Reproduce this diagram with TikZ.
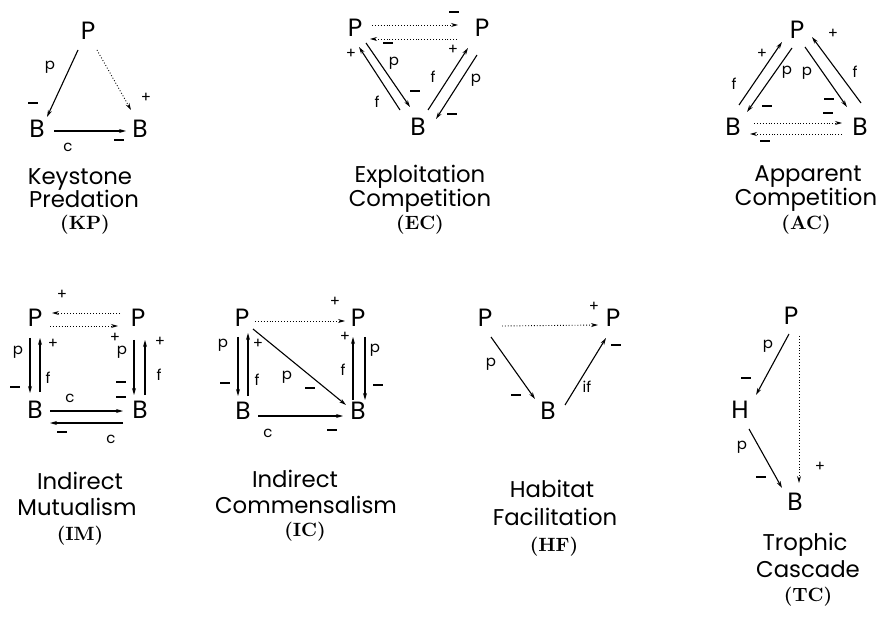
\documentclass[tikz,border=0pt]{standalone}
\usepackage{fontspec}
\newfontfamily\sketchfont{Poppins}
\usetikzlibrary{arrows.meta}

\newcommand\mn{\rule{4.6pt}{0.6pt}}

\tikzset{
  sp/.style={font=\sketchfont\fontsize{12.5}{14}\selectfont, inner sep=0pt},
  lbl/.style={font=\sketchfont\fontsize{7.5}{8}\selectfont, inner sep=0pt},
  ttl/.style={font=\sketchfont\fontsize{11.4}{13}\selectfont, inner sep=0pt, anchor=base},
  abbr/.style={font=\bfseries\fontsize{9.6}{11}\selectfont, inner sep=0pt, anchor=base},
  eff/.style={line width=0.55pt, -{Stealth[length=3.5pt,width=2pt]}},
  ind/.style={line width=0.45pt, densely dotted, -{Stealth[length=3.5pt,width=2pt]}},
}

\begin{document}
\begin{tikzpicture}[x=0.5pt,y=-0.5pt]
    \useasboundingbox (0,0) rectangle (877,625);

    % keystone predation
    \node[sp] (kpP) at (88,31) {P};
    \node[sp] (kpBl) at (37,129) {B};
    \node[sp] (kpBr) at (140,129) {B};
    \draw[eff] ([shift={(-10,19)}]kpP.center) -- ([shift={(10,-12)}]kpBl.center);
    \draw[ind] ([shift={(9,19)}]kpP.center) -- ([shift={(-9,-19)}]kpBr.center);
    \draw[eff] ([shift={(17,2)}]kpBl.center) -- ([shift={(-14,2)}]kpBr.center);
    \foreach \t/\x/\y [count=\i] in {p/50/67, \mn/33/103, +/146/98, c/68/147, \mn/119/140}
        \node[lbl] (kp-l\i) at (\x,\y) {\t};
    \node[ttl] (kpT1) at (80,185) {Keystone};
    \node[ttl] (kpT2) at (84,208) {Predation};
    \node[abbr] (kpT3) at (85,230) {(KP)};

    % exploitation competition
    \node[sp] (ecPl) at (355,28) {P};
    \node[sp] (ecPr) at (482,28) {P};
    \node[sp] (ecB) at (418,127) {B};
    \draw[ind] ([shift={(17,-3)}]ecPl.center) -- ([shift={(-24,-3)}]ecPr.center);
    \draw[ind] ([shift={(-25,11)}]ecPr.center) -- ([shift={(15,11)}]ecPl.center);
    \draw[eff] ([shift={(-18,-17)}]ecB.center) -- ([shift={(4,19)}]ecPl.center);
    \draw[eff] ([shift={(11,15)}]ecPl.center) -- ([shift={(-8,-20)}]ecB.center);
    \draw[eff] ([shift={(10,-17)}]ecB.center) -- ([shift={(-14,20)}]ecPr.center);
    \draw[eff] ([shift={(-5,27)}]ecPr.center) -- ([shift={(18,-8)}]ecB.center);
    \foreach \t/\x/\y [count=\i] in {\mn/454/12, \mn/388/43, +/351/54, f/377/102,
        p/394/63, \mn/415/91, +/453/50, f/433/77, p/476/80, \mn/452/114}
        \node[lbl] (ec-l\i) at (\x,\y) {\t};
    \node[ttl] (ecT1) at (420,183) {Exploitation};
    \node[ttl] (ecT2) at (420,207) {Competition};
    \node[abbr] (ecT3) at (420,230) {(EC)};

    % apparent competition
    \node[sp] (acP) at (797,30) {P};
    \node[sp] (acBl) at (733,127) {B};
    \node[sp] (acBr) at (860,127) {B};
    \draw[eff] ([shift={(6,-22)}]acBl.center) -- ([shift={(-15,12)}]acP.center);
    \draw[eff] ([shift={(-5,18)}]acP.center) -- ([shift={(14,-15)}]acBl.center);
    \draw[eff] ([shift={(8,17)}]acP.center) -- ([shift={(-13,-20)}]acBr.center);
    \draw[eff] ([shift={(1,-24)}]acBr.center) -- ([shift={(15,7)}]acP.center);
    \draw[ind] ([shift={(21,-4)}]acBl.center) -- ([shift={(-18,-4)}]acBr.center);
    \draw[ind] ([shift={(-18,7)}]acBr.center) -- ([shift={(17,7)}]acBl.center);
    \foreach \t/\x/\y [count=\i] in {+/762/54, f/734/84, p/787/72, \mn/767/106, p/807/73,
        \mn/829/99, \mn/828/113, +/833/34, f/855/72, \mn/765/141}
        \node[lbl] (ac-l\i) at (\x,\y) {\t};
    \node[ttl] (acT1) at (808,182) {Apparent};
    \node[ttl] (acT2) at (806,206) {Competition};
    \node[abbr] (acT3) at (806,230) {(AC)};

    % indirect mutualism
    \node[sp] (imPl) at (35,318) {P};
    \node[sp] (imPr) at (138,318) {P};
    \node[sp] (imBl) at (35,410) {B};
    \node[sp] (imBr) at (140,410) {B};
    \draw[ind] ([shift={(-18,-5)}]imPr.center) -- ([shift={(17,-5)}]imPl.center);
    \draw[ind] ([shift={(15,8)}]imPl.center) -- ([shift={(-20,8)}]imPr.center);
    \draw[eff] ([shift={(-5,20)}]imPl.center) -- ([shift={(-5,-17)}]imBl.center);
    \draw[eff] ([shift={(5,-18)}]imBl.center) -- ([shift={(5,20)}]imPl.center);
    \draw[eff] ([shift={(-4,22)}]imPr.center) -- ([shift={(-6,-15)}]imBr.center);
    \draw[eff] ([shift={(5,-15)}]imBr.center) -- ([shift={(7,22)}]imPr.center);
    \draw[eff] ([shift={(15,1)}]imBl.center) -- ([shift={(-17,1)}]imBr.center);
    \draw[eff] ([shift={(-17,13)}]imBr.center) -- ([shift={(15,13)}]imBl.center);
    \foreach \t/\x/\y [count=\i] in {+/62/295, +/115/338, p/18/352, \mn/15/387, +/53/344,
        f/48/378, p/122/352, \mn/121/382, \mn/121/397, +/160/342, f/159/375,
        c/70/398, \mn/62/432, c/111/439}
        \node[lbl] (im-l\i) at (\x,\y) {\t};
    \node[ttl] (imT1) at (80,489) {Indirect};
    \node[ttl] (imT2) at (77,515) {Mutualism};
    \node[abbr] (imT3) at (80,540) {(IM)};

    % indirect commensalism
    \node[sp] (icPl) at (242,318) {P};
    \node[sp] (icPr) at (358,318) {P};
    \node[sp] (icBl) at (243,411) {B};
    \node[sp] (icBr) at (358,411) {B};
    \draw[ind] ([shift={(13,3)}]icPl.center) -- ([shift={(-13,3)}]icPr.center);
    \draw[eff] ([shift={(-4,19)}]icPl.center) -- ([shift={(-5,-15)}]icBl.center);
    \draw[eff] ([shift={(5,-15)}]icBl.center) -- ([shift={(6,15)}]icPl.center);
    \draw[eff] ([shift={(11,11)}]icPl.center) -- ([shift={(-12,-6)}]icBr.center);
    \draw[eff] ([shift={(-5,-11)}]icBr.center) -- ([shift={(-5,19)}]icPr.center);
    \draw[eff] ([shift={(7,19)}]icPr.center) -- ([shift={(7,-11)}]icBr.center);
    \draw[eff] ([shift={(15,5)}]icBl.center) -- ([shift={(-15,5)}]icBr.center);
    \foreach \t/\x/\y [count=\i] in {+/335/302, p/223/345, \mn/225/383, +/258/344,
        f/257/380, p/287/377, \mn/310/388, +/345/337, f/343/370, p/375/350,
        \mn/378/385, c/268/433, \mn/332/430}
        \node[lbl] (ic-l\i) at (\x,\y) {\t};
    \node[ttl] (icT1) at (295,487) {Indirect};
    \node[ttl] (icT2) at (306,513) {Commensalism};
    \node[abbr] (icT3) at (305,536) {(IC)};

    % habitat facilitation
    \node[sp] (hfPl) at (485,318) {P};
    \node[sp] (hfPr) at (613,318) {P};
    \node[sp] (hfB) at (548,411) {B};
    \draw[ind] ([shift={(17,8)}]hfPl.center) -- ([shift={(-15,7)}]hfPr.center);
    \draw[eff] ([shift={(6,19)}]hfPl.center) -- ([shift={(-13,-12)}]hfB.center);
    \draw[eff] ([shift={(17,-6)}]hfB.center) -- ([shift={(-7,20)}]hfPr.center);
    \foreach \t/\x/\y [count=\i] in {+/594/307, p/491/364, \mn/516/395, if/587/387, \mn/616/345}
        \node[lbl] (hf-l\i) at (\x,\y) {\t};
    \node[ttl] (hfT1) at (552,497) {Habitat};
    \node[ttl] (hfT2) at (555,525) {Facilitation};
    \node[abbr] (hfT3) at (554,551) {(HF)};

    % trophic cascade
    \node[sp] (tcP) at (791,316) {P};
    \node[sp] (tcH) at (740,410) {H};
    \node[sp] (tcB) at (795,502) {B};
    \draw[eff] ([shift={(-2,18)}]tcP.center) -- ([shift={(16,-15)}]tcH.center);
    \draw[eff] ([shift={(9,19)}]tcH.center) -- ([shift={(-13,-14)}]tcB.center);
    \draw[ind] ([shift={(8,20)}]tcP.center) -- ([shift={(4,-19)}]tcB.center);
    \foreach \t/\x/\y [count=\i] in {p/768/346, \mn/746/378, p/742/447, \mn/761/477, +/820/467}
        \node[lbl] (tc-l\i) at (\x,\y) {\t};
    \node[ttl] (tcT1) at (805,550) {Trophic};
    \node[ttl] (tcT2) at (808,577) {Cascade};
    \node[abbr] (tcT3) at (808,601) {(TC)};
\end{tikzpicture}
\end{document}
